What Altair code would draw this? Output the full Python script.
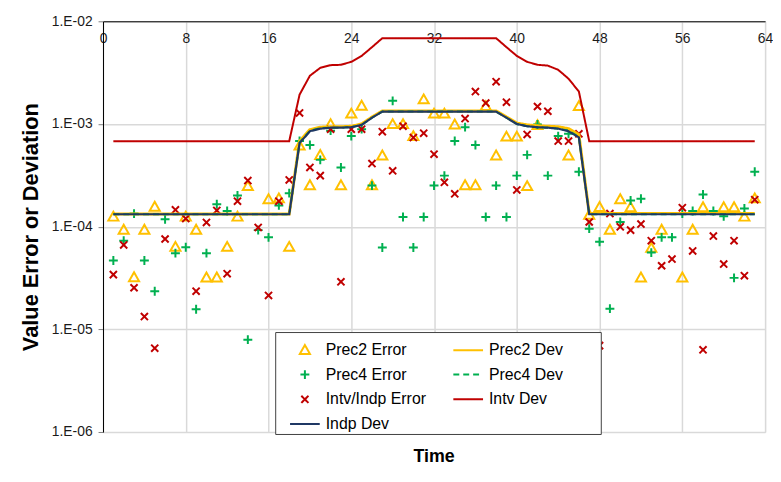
import altair as alt
import pandas as pd

times = list(range(1, 64))

prec2_err = [1.24e-4, 9.25e-5, 3.19e-5, 9.25e-5, 1.55e-4, None, 6.30e-5, 1.24e-4, 9.25e-5, 3.17e-5,
             3.17e-5, 6.30e-5, 1.24e-4, 2.46e-4, None, 1.83e-4, 1.87e-4, 6.30e-5, 6.10e-4, 2.51e-4,
             4.94e-4, 9.88e-4, 2.51e-4, 1.25e-3, 1.49e-3, 2.51e-4, 4.89e-4, 9.88e-4, 9.88e-4, 7.54e-4,
             1.72e-3, 1.25e-3, 1.25e-3, 9.79e-4, 2.51e-4, 2.51e-4, 1.48e-3, 4.89e-4, 7.46e-4, 7.46e-4,
             2.46e-4, 9.66e-4, None, None, 4.89e-4, 1.48e-3, 1.29e-4, 1.54e-4, 9.25e-5, 1.83e-4,
             1.53e-4, 3.17e-5, 6.16e-5, 9.25e-5, None, 3.17e-5, 9.25e-5, 1.53e-4, None, 1.53e-4,
             1.53e-4, 1.24e-4, 1.87e-4]

prec4_err = [4.68e-5, 7.30e-5, 1.34e-4, 4.68e-5, 2.35e-5, 1.18e-4, 5.52e-5, 6.30e-5, 1.57e-5, 5.52e-5,
             1.65e-4, 1.42e-4, 2.01e-4, 7.93e-6, 9.25e-5, 7.87e-5, 1.61e-4, 2.12e-4, 6.82e-4, 6.24e-4,
             4.47e-4, 8.61e-4, 3.77e-4, 7.62e-4, 8.90e-4, 2.51e-4, 6.27e-5, 1.68e-3, 1.24e-4, 6.27e-5,
             1.24e-4, 2.51e-4, 3.14e-4, 6.82e-4, 9.31e-4, 6.24e-4, 1.24e-4, 2.51e-4, 1.24e-4, 3.14e-4,
             5.00e-4, 9.88e-4, 3.14e-4, 7.62e-4, 8.02e-4, 3.43e-4, 9.56e-5, 7.14e-5, 1.59e-5, 1.11e-4,
             1.80e-4, 1.87e-4, 5.59e-5, 7.87e-5, 7.87e-5, 1.34e-4, 1.42e-4, 2.06e-4, 1.42e-4, 1.26e-4,
             3.17e-5, 1.50e-4, 3.43e-4]

intv_err = [3.41e-5, 6.63e-5, 2.54e-5, 1.33e-5, 6.55e-6, 7.58e-5, 1.46e-4, 1.20e-4, 2.35e-5, 1.10e-4,
            1.44e-4, 3.48e-5, 1.77e-4, 2.81e-4, 9.82e-5, 2.14e-5, 1.77e-4, 2.85e-4, 1.28e-3, 3.77e-4,
            3.14e-4, 8.90e-4, 2.90e-5, 8.90e-4, 8.90e-4, 4.12e-4, 8.42e-4, 3.50e-4, 9.51e-4, 7.37e-4,
            8.14e-4, 5.08e-4, 2.70e-4, 2.09e-4, 1.13e-3, 2.07e-3, 1.60e-3, 2.58e-3, 1.63e-3, 2.28e-4,
            7.91e-4, 1.48e-3, 1.33e-3, 6.82e-4, 6.82e-4, 8.02e-4, 1.11e-4, 6.94e-6, 1.34e-4, 9.96e-5,
            9.25e-5, 1.06e-4, 7.30e-5, 4.16e-5, 4.83e-5, 1.53e-4, 5.80e-5, 6.31e-6, 8.10e-5, 4.32e-5,
            7.30e-5, 3.33e-5, 1.83e-4]

prec2_dev = [1.33e-4, 1.33e-4, 1.33e-4, 1.33e-4, 1.33e-4, 1.33e-4, 1.33e-4, 1.33e-4, 1.33e-4, 1.33e-4,
             1.33e-4, 1.33e-4, 1.33e-4, 1.33e-4, 1.33e-4, 1.33e-4, 1.33e-4, 1.33e-4, 6.8e-4, 8.8e-4,
             9.3e-4, 9.4e-4, 9.4e-4, 9.5e-4, 1.0e-3, 1.17e-3, 1.34e-3, 1.34e-3, 1.34e-3, 1.34e-3,
             1.34e-3, 1.34e-3, 1.34e-3, 1.34e-3, 1.34e-3, 1.34e-3, 1.34e-3, 1.34e-3, 1.17e-3, 1.02e-3,
             9.8e-4, 9.6e-4, 9.5e-4, 9.4e-4, 9.0e-4, 7.9e-4, 1.34e-4, 1.34e-4, 1.34e-4, 1.34e-4,
             1.34e-4, 1.34e-4, 1.34e-4, 1.34e-4, 1.34e-4, 1.34e-4, 1.34e-4, 1.34e-4, 1.34e-4, 1.34e-4,
             1.34e-4, 1.34e-4, 1.34e-4]

prec4_dev = [1.32e-4, 1.32e-4, 1.32e-4, 1.32e-4, 1.32e-4, 1.32e-4, 1.32e-4, 1.32e-4, 1.32e-4, 1.32e-4,
             1.32e-4, 1.32e-4, 1.32e-4, 1.32e-4, 1.32e-4, 1.32e-4, 1.32e-4, 1.32e-4, 6.6e-4, 8.6e-4,
             9.1e-4, 9.2e-4, 9.2e-4, 9.3e-4, 9.8e-4, 1.15e-3, 1.32e-3, 1.32e-3, 1.32e-3, 1.32e-3,
             1.32e-3, 1.32e-3, 1.32e-3, 1.32e-3, 1.32e-3, 1.32e-3, 1.32e-3, 1.32e-3, 1.15e-3, 1.0e-3,
             9.5e-4, 9.3e-4, 9.2e-4, 9.0e-4, 8.6e-4, 7.5e-4, 1.32e-4, 1.32e-4, 1.32e-4, 1.32e-4,
             1.32e-4, 1.32e-4, 1.32e-4, 1.32e-4, 1.32e-4, 1.32e-4, 1.32e-4, 1.32e-4, 1.32e-4, 1.32e-4,
             1.32e-4, 1.32e-4, 1.32e-4]

intv_dev = [6.8e-4, 6.8e-4, 6.8e-4, 6.8e-4, 6.8e-4, 6.8e-4, 6.8e-4, 6.8e-4, 6.8e-4, 6.8e-4,
            6.8e-4, 6.8e-4, 6.8e-4, 6.8e-4, 6.8e-4, 6.8e-4, 6.8e-4, 6.8e-4, 1.93e-3, 2.95e-3,
            3.52e-3, 3.74e-3, 3.77e-3, 4.03e-3, 4.6e-3, 5.6e-3, 6.85e-3, 6.85e-3, 6.85e-3, 6.85e-3,
            6.85e-3, 6.85e-3, 6.85e-3, 6.85e-3, 6.85e-3, 6.85e-3, 6.85e-3, 6.85e-3, 5.6e-3, 4.6e-3,
            4.03e-3, 3.77e-3, 3.7e-3, 3.37e-3, 2.76e-3, 2.07e-3, 6.8e-4, 6.8e-4, 6.8e-4, 6.8e-4,
            6.8e-4, 6.8e-4, 6.8e-4, 6.8e-4, 6.8e-4, 6.8e-4, 6.8e-4, 6.8e-4, 6.8e-4, 6.8e-4,
            6.8e-4, 6.8e-4, 6.8e-4]

indp_dev = [1.32e-4, 1.32e-4, 1.32e-4, 1.32e-4, 1.32e-4, 1.32e-4, 1.32e-4, 1.32e-4, 1.32e-4, 1.32e-4,
            1.32e-4, 1.32e-4, 1.32e-4, 1.32e-4, 1.32e-4, 1.32e-4, 1.32e-4, 1.32e-4, 6.5e-4, 8.5e-4,
            9.0e-4, 9.2e-4, 9.2e-4, 9.3e-4, 9.8e-4, 1.15e-3, 1.32e-3, 1.32e-3, 1.32e-3, 1.32e-3,
            1.32e-3, 1.32e-3, 1.32e-3, 1.32e-3, 1.32e-3, 1.32e-3, 1.32e-3, 1.32e-3, 1.15e-3, 1.0e-3,
            9.5e-4, 9.3e-4, 9.2e-4, 9.0e-4, 8.5e-4, 7.4e-4, 1.32e-4, 1.32e-4, 1.32e-4, 1.32e-4,
            1.32e-4, 1.32e-4, 1.32e-4, 1.32e-4, 1.32e-4, 1.32e-4, 1.32e-4, 1.32e-4, 1.32e-4, 1.32e-4,
            1.32e-4, 1.32e-4, 1.32e-4]

x_ticks = [0, 8, 16, 24, 32, 40, 48, 56, 64]
y_ticks = [1e-6, 1e-5, 1e-4, 1e-3, 1e-2]

# legend is laid out column by column: first column = first four entries
series_order = ["Prec2 Error", "Prec4 Error", "Intv/Indp Error", "Indp Dev",
                "Prec2 Dev", "Prec4 Dev", "Intv Dev"]
series_colors = ["#FFC000", "#00B050", "#C00000", "#1F3864", "#FFC000", "#00B050", "#C00000"]
TRI = "M0,-0.36L0.34,0.24L-0.34,0.24Z"
PLUS = "M-0.3,0L0.3,0M0,-0.3L0,0.3"
XSH = "M-0.24,-0.24L0.24,0.24M-0.24,0.24L0.24,-0.24"
series_shapes = [TRI, PLUS, XSH, "stroke", "stroke", "stroke", "stroke"]
series_dash = [[1, 0], [1, 0], [1, 0], [1, 0], [1, 0], [6, 4], [1, 0]]

rows = []
for name, vals in [("Prec2 Error", prec2_err), ("Prec4 Error", prec4_err),
                   ("Intv/Indp Error", intv_err), ("Prec2 Dev", prec2_dev),
                   ("Prec4 Dev", prec4_dev), ("Intv Dev", intv_dev), ("Indp Dev", indp_dev)]:
    for t, v in zip(times, vals):
        if v is not None:
            rows.append({"time": t, "value": v, "series": name})
df = pd.DataFrame(rows)

FONT = "Liberation Sans"

# second legend column gets trailing blank room, as in the original box
legend_label = ("indexof(['Prec2 Dev', 'Prec4 Dev', 'Intv Dev'], datum.label) >= 0 ? "
                "datum.label + '\u00a0\u00a0\u00a0\u00a0\u00a0\u00a0\u00a0\u00a0\u200b' : datum.label")

legend = alt.Legend(title=None, orient="none", legendX=174, legendY=314, columns=2,
                    gridAlign="all", symbolSize=900, symbolStrokeWidth=2,
                    symbolFillColor="transparent", labelExpr=legend_label,
                    labelFont=FONT, labelFontSize=16, labelColor="black", labelOffset=5,
                    columnPadding=5, rowPadding=0, padding=2, symbolOffset=12,
                    strokeColor="#404040", fillColor="white", labelLimit=300)

x_enc = alt.X("time:Q", scale=alt.Scale(domain=[0, 64], nice=False, zero=False),
              axis=alt.Axis(orient="top", values=x_ticks, title=None, ticks=False, tickSize=0,
                            labelPadding=-10, labelBaseline="top", labelFont=FONT,
                            labelFontSize=14, labelColor="#1a1a1a", labelFlush=False,
                            labelOverlap=False, grid=True, gridColor="#D9D9D9", gridWidth=1.5,
                            domainColor="black", domainWidth=1))
y_enc = alt.Y("value:Q", scale=alt.Scale(type="log", domain=[1e-6, 1e-2], nice=False),
              axis=alt.Axis(values=y_ticks,
                            labelExpr="'1.E-0' + format(-log(datum.value) / LN10, '.0f')",
                            title="Value Error or Deviation", titleFont=FONT, titleFontSize=22,
                            titleFontWeight="bold", titleColor="black", titlePadding=9,
                            labelFont=FONT, labelFontSize=14, labelColor="#1a1a1a",
                            tickSize=5, tickColor="#808080", labelPadding=6,
                            grid=True, gridColor="#D9D9D9", gridWidth=1.5,
                            domainColor="black", domainWidth=1))
color_enc = alt.Color("series:N", scale=alt.Scale(domain=series_order, range=series_colors),
                      legend=legend)
shape_enc = alt.Shape("series:N", scale=alt.Scale(domain=series_order, range=series_shapes),
                      legend=legend)
dash_enc = alt.StrokeDash("series:N", scale=alt.Scale(domain=series_order, range=series_dash),
                          legend=legend)

base = alt.Chart(df)


def points(name):
    return base.transform_filter(alt.datum.series == name).mark_point(
        filled=False, size=900, strokeWidth=2, opacity=1
    ).encode(x=x_enc, y=y_enc, color=color_enc, shape=shape_enc)


def line(name, width):
    return base.transform_filter(alt.datum.series == name).mark_line(
        strokeWidth=width
    ).encode(x=x_enc, y=y_enc, color=color_enc, strokeDash=dash_enc)


chart = alt.layer(
    points("Prec2 Error"),
    points("Prec4 Error"),
    points("Intv/Indp Error"),
    line("Prec2 Dev", 3),
    line("Prec4 Dev", 2),
    line("Intv Dev", 2),
    line("Indp Dev", 2.2),
).properties(
    width=669, height=415,
    title=alt.TitleParams("Time", orient="bottom", frame="group", font=FONT, fontSize=18,
                          fontWeight="bold", color="black", offset=9),
    autosize=alt.AutoSizeParams(type="none"),
    padding={"left": 96, "top": 11, "right": 8, "bottom": 40},
).configure_view(stroke=None).configure(background="white")

chart.save("out.html", embed_options={"renderer": "svg", "actions": False})
